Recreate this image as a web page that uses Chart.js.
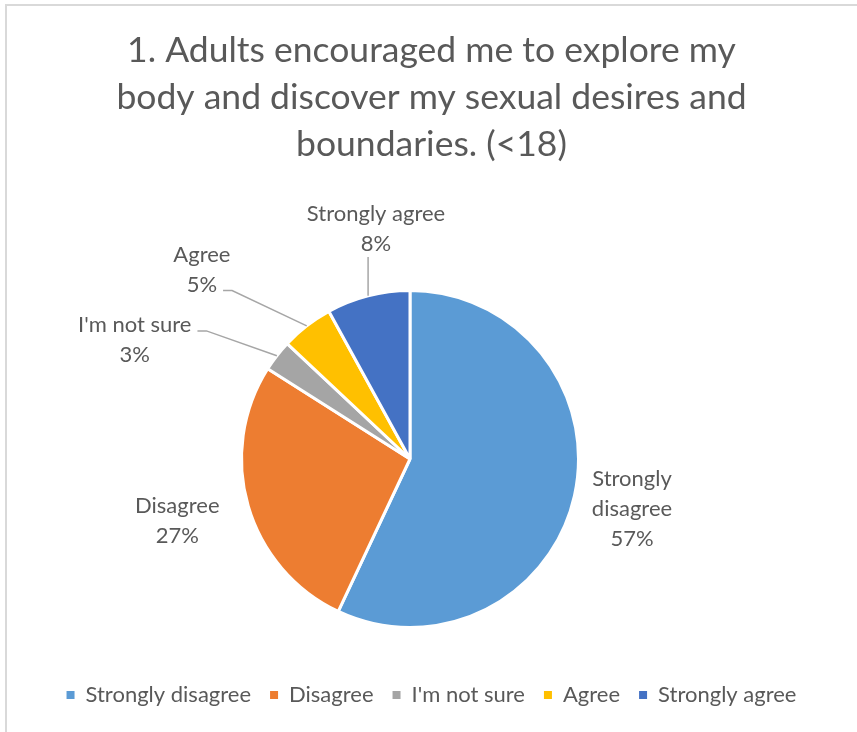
<!DOCTYPE html>
<html>
<head>
<meta charset="utf-8">
<script src="https://cdn.jsdelivr.net/npm/chart.js@4.4.1/dist/chart.umd.min.js"></script>
<style>
  html, body { margin: 0; padding: 0; background: #fff; }
  .frame {
    position: absolute; left: 5px; top: 4px; width: 900px; height: 800px;
    border-top: 2px solid #d9d9d9; border-left: 2px solid #d9d9d9;
  }
  #wrap { position: absolute; left: 0; top: 0; width: 857px; height: 732px; }
</style>
</head>
<body>
<div class="frame"></div>
<div id="wrap"><canvas id="pie-chart"></canvas></div>
<script>
const titleLines = [
    '1. Adults encouraged me to explore my',
    'body and discover my sexual desires and',
    'boundaries. (<18)'
];
const categories = ['Strongly disagree', 'Disagree', "I'm not sure", 'Agree', 'Strongly agree'];
const percentages = [57, 27, 3, 5, 8];
const labelLines = [['Strongly', 'disagree'], ['Disagree'], ["I'm not sure"], ['Agree'], ['Strongly agree']];
const sliceColors = ['#5B9BD5', '#ED7D31', '#A5A5A5', '#FFC000', '#4472C4'];

const FONT = "Lato, 'Liberation Sans', sans-serif";
const TEXT_COLOR = '#595959';

// where each data label sits: distance in radii from the centre, angle shift from
// the slice middle (degrees), and how its leader line attaches
const labelPlacement = [
    { dist: 1.35, shift: 0 },
    { dist: 1.43, shift: 1.2 },
    { dist: 1.78, shift: -14.4, leader: 'right', line: 0 },
    { dist: 1.67, shift: -9.9, leader: 'right', line: 1 },
    { dist: 1.38, shift: 6, leader: 'bottom' }
];

// move the pie a bit left of the title centre and keep it off the legend
const plotInset = { right: 43, bottom: 36 };

const plotAreaPlugin = {
    id: 'plotArea',
    afterLayout(chart) {
        const area = chart.chartArea;
        area.right -= plotInset.right;
        area.bottom -= plotInset.bottom;
        area.width = area.right - area.left;
        area.height = area.bottom - area.top;
    }
};

const dataLabelPlugin = {
    id: 'dataLabels',
    afterDatasetsDraw(chart) {
        const ctx = chart.ctx;
        const arcs = chart.getDatasetMeta(0).data;
        const lineGap = 30;
        ctx.save();
        ctx.font = '22px ' + FONT;
        ctx.fillStyle = TEXT_COLOR;
        ctx.textAlign = 'center';
        ctx.textBaseline = 'middle';
        arcs.forEach((arc, i) => {
            const { x, y, startAngle, endAngle, outerRadius } = arc.getProps(['x', 'y', 'startAngle', 'endAngle', 'outerRadius'], true);
            const mid = (startAngle + endAngle) / 2;
            const place = labelPlacement[i];
            const a = mid + place.shift * Math.PI / 180;
            const cx = x + Math.cos(a) * outerRadius * place.dist;
            const cy = y + Math.sin(a) * outerRadius * place.dist;
            const lines = labelLines[i].concat([percentages[i] + '%']);
            const firstY = cy - (lines.length - 1) / 2 * lineGap;

            if (place.leader) {
                const ex = x + Math.cos(mid) * outerRadius;
                const ey = y + Math.sin(mid) * outerRadius;
                ctx.strokeStyle = '#a6a6a6';
                ctx.lineWidth = 1.5;
                ctx.beginPath();
                if (place.leader === 'right') {
                    const ly = firstY + place.line * lineGap + 6;
                    const lx = cx + ctx.measureText(lines[place.line]).width / 2 + 6;
                    ctx.moveTo(lx, ly);
                    ctx.lineTo(lx + 9, ly);
                    ctx.lineTo(ex, ey);
                } else {
                    const by = firstY + (lines.length - 1) * lineGap + 13;
                    ctx.moveTo(ex, by);
                    ctx.lineTo(ex, ey);
                }
                ctx.stroke();
            }

            lines.forEach((text, k) => ctx.fillText(text, cx, firstY + k * lineGap));
        });
        ctx.restore();
    }
};

new Chart(document.getElementById('pie-chart'), {
    type: 'pie',
    data: {
        labels: categories,
        datasets: [{
            data: percentages,
            backgroundColor: sliceColors,
            borderColor: '#ffffff',
            borderWidth: 3
        }]
    },
    options: {
        responsive: true,
        maintainAspectRatio: false,
        animation: false,
        layout: { padding: { left: 6, right: 0, top: 0, bottom: 16 } },
        plugins: {
            title: {
                display: true,
                text: titleLines,
                color: TEXT_COLOR,
                font: { family: FONT, size: 35.5, weight: 'normal', lineHeight: 47 / 35.5 },
                padding: { top: 27, bottom: 121 }
            },
            legend: {
                position: 'bottom',
                labels: {
                    color: TEXT_COLOR,
                    font: { family: FONT, size: 22 },
                    boxWidth: 8,
                    boxHeight: 8,
                    padding: 19,
                    generateLabels: chart => Chart.overrides.pie.plugins.legend.labels.generateLabels(chart)
                        .map(item => ({ ...item, lineWidth: 0 }))
                }
            },
            tooltip: { enabled: false }
        }
    },
    plugins: [plotAreaPlugin, dataLabelPlugin]
});
</script>
</body>
</html>
